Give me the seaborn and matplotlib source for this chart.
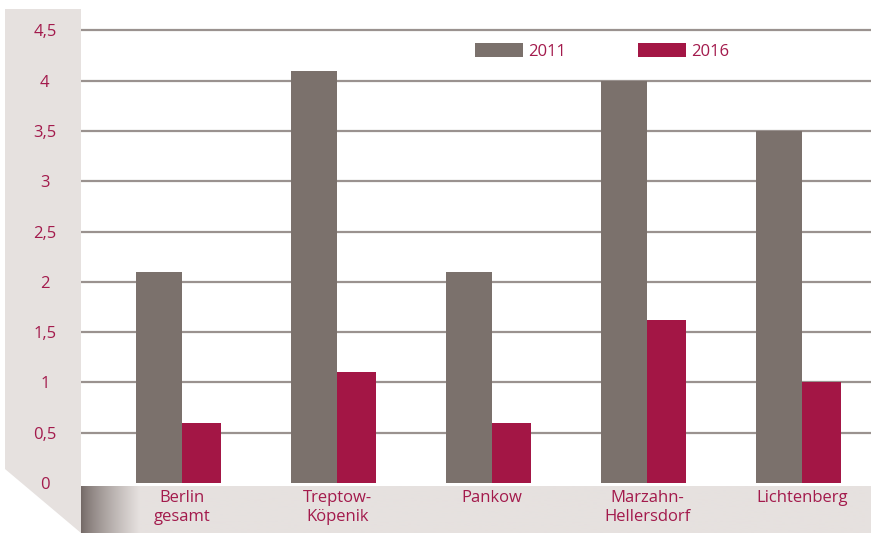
import numpy as np
import pandas as pd
import seaborn as sns
import matplotlib
matplotlib.use("Agg")
import matplotlib.pyplot as plt
from matplotlib.patches import Polygon, Patch

# ---- data ----
districts = ["Berlin\ngesamt", "Treptow-\nKöpenik", "Pankow", "Marzahn-\nHellersdorf", "Lichtenberg"]
values_2011 = [2.1, 4.1, 2.1, 4.0, 3.5]
values_2016 = [0.6, 1.1, 0.6, 1.62, 1.0]
years = ["2011", "2016"]
yticks = [0, 0.5, 1, 1.5, 2, 2.5, 3, 3.5, 4, 4.5]
ytick_labels = ["0", "0,5", "1", "1,5", "2", "2,5", "3", "3,5", "4", "4,5"]

GRAY = "#7b716c"
RED = "#a31645"
TEXT = "#a31a4c"
BAND = "#e6e1df"
GRID = "#9a928f"

df = pd.DataFrame({
    "district": districts * 2,
    "value": values_2011 + values_2016,
    "year": [years[0]] * len(districts) + [years[1]] * len(districts),
})

sns.set_theme(style="white")
plt.rcParams["font.family"] = ["Open Sans", "DejaVu Sans"]

W, H = 871, 533
fig = plt.figure(figsize=(W / 100, H / 100), dpi=100)

ax_left_px, ax_bottom_px = 81, 50
ax = fig.add_axes([ax_left_px / W, ax_bottom_px / H, (W - ax_left_px) / W, (H - ax_bottom_px) / H])
ax.set_zorder(2)

sns.barplot(data=df, x="district", y="value", hue="year", palette=[GRAY, RED],
            ax=ax, width=0.6, saturation=1, legend=False, zorder=3)

# adjust bar widths (2011 wider than 2016, touching at category center)
w11, w16 = 0.297, 0.252
for ci, cont in enumerate(ax.containers):
    for i, bar in enumerate(cont):
        if ci == 0:
            bar.set_x(i - w11)
            bar.set_width(w11)
        else:
            bar.set_x(i)
            bar.set_width(w16)
        bar.set_edgecolor("none")

ax.set_xlim(-0.655, 4.445)
ax.set_ylim(0, (H - ax_bottom_px) / 100.6)
ax.set_yticks(yticks)
ax.set_yticklabels(ytick_labels)
for sp in ax.spines.values():
    sp.set_visible(False)
ax.set_xlabel("")
ax.set_ylabel("")

# grid lines
for t in yticks[1:]:
    ax.axhline(t, color=GRID, lw=1.6, zorder=1)

ax.tick_params(axis="y", length=0, pad=26, labelsize=12, labelcolor=TEXT)
for lab in ax.get_yticklabels():
    lab.set_horizontalalignment("center")
ax.tick_params(axis="x", length=0, pad=5, labelsize=12, labelcolor=TEXT)
for lab in ax.get_xticklabels():
    lab.set_linespacing(1.25)

# legend
handles = [Patch(facecolor=GRAY, edgecolor="none"), Patch(facecolor=RED, edgecolor="none")]
leg = fig.legend(handles, years, loc="upper left", bbox_to_anchor=(475 / W, 1 - 43 / H),
                 ncol=2, frameon=False, handlelength=2.9, handleheight=0.95,
                 handletextpad=0.3, columnspacing=4.3, borderpad=0, borderaxespad=0,
                 fontsize=12, labelcolor=TEXT)

# left band polygon
poly = Polygon([(5 / W, 1 - 9 / H), (81 / W, 1 - 9 / H), (81 / W, 0), (5 / W, 1 - 469 / H)],
               closed=True, transform=fig.transFigure, facecolor=BAND, edgecolor="none", zorder=0)
fig.patches.append(poly)

# bottom band with gradient
bax = fig.add_axes([ax_left_px / W, 0, (W - ax_left_px) / W, 47 / H])
bax.set_zorder(0)
ncol = W - ax_left_px
xs = np.arange(ncol)
dark = np.array([0x74, 0x69, 0x66]) / 255
light = np.array([0xe6, 0xe1, 0xdf]) / 255
f = np.clip(xs / 58.0, 0, 1) ** 0.8
row = dark[None, :] * (1 - f[:, None]) + light[None, :] * f[:, None]
img = np.repeat(row[None, :, :], 2, axis=0)
bax.imshow(img, aspect="auto", extent=(0, 1, 0, 1))
bax.set_axis_off()

fig.savefig("out.png", dpi=100)
